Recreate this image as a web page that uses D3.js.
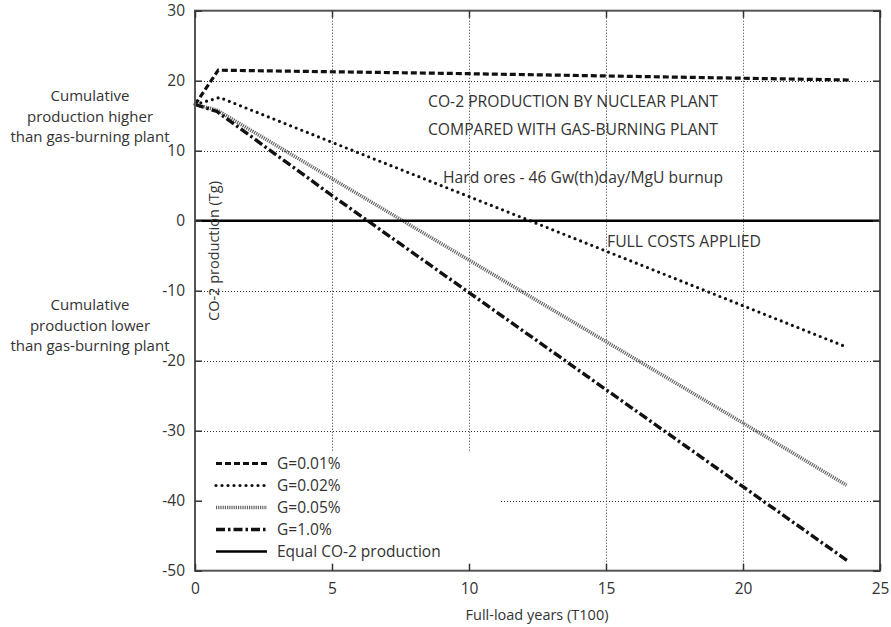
<!DOCTYPE html>
<html lang="en">
<head>
<meta charset="utf-8">
<title>CO-2 production</title>
<script src="https://cdn.jsdelivr.net/npm/d3@7"></script>
<style>
  body { margin: 0; background: #fff; }
  text { font-family: "Open Sans", "DejaVu Sans", sans-serif; fill: #333; }
</style>
</head>
<body>
<script>
// data
var xTicks = [0, 5, 10, 15, 20, 25];
var yTicks = [30, 20, 10, 0, -10, -20, -30, -40, -50];
var seriesNames = ["G=0.01%", "G=0.02%", "G=0.05%", "G=1.0%", "Equal CO-2 production"];
var g001 = [[0, 16.6], [0.85, 21.5], [10, 21.0], [23.9, 20.1]];
var g002 = [[0, 16.6], [0.9, 17.6], [5, 11.2], [12.35, -0.2], [23.75, -18.0]];
var g005 = [[0, 16.6], [0.8, 15.8], [7.58, 0], [20, -28.9], [23.78, -37.8]];
var g100 = [[0, 16.6], [0.8, 15.6], [5, 3.6], [20, -38.0], [23.82, -48.6]];
var equal = [[0, 0], [25, 0]];

var W = 891, H = 627;
var svg = d3.select("body").append("svg").attr("width", W).attr("height", H);

var x = d3.scaleLinear().domain([0, 25]).range([195, 880]);
var y = d3.scaleLinear().domain([-50, 30]).range([570.7, 10.7]);
function px(v) { return Math.round(v) + 0.5; }

//grid
var grid = svg.append("g").attr("stroke", "#333").attr("stroke-width", 1).attr("stroke-dasharray", "1,2");
grid.selectAll("line.gy").data(yTicks.slice(1, -1)).enter().append("line")
    .attr("x1", x(0)).attr("x2", x(25)).attr("y1", function(d) { return px(y(d)); }).attr("y2", function(d) { return px(y(d)); });
grid.selectAll("line.gx").data(xTicks.slice(1, -1)).enter().append("line")
    .attr("y1", y(-50)).attr("y2", y(30)).attr("x1", function(d) { return px(x(d)); }).attr("x2", function(d) { return px(x(d)); });

//series
var line = d3.line().x(function(d) { return x(d[0]); }).y(function(d) { return y(d[1]); });
var styles = [
  {data: g001, color: "#111", width: 3.2, dash: "6,3", cap: "butt"},
  {data: g002, color: "#111", width: 3.2, dash: "0,6", cap: "round"},
  {data: g005, color: "#666", width: 3.6, dash: "1.2,1", cap: "butt"},
  {data: g100, color: "#111", width: 3.4, dash: "9,3,2.5,3", cap: "butt"},
  {data: equal, color: "#000", width: 2.4, dash: null, cap: "butt"}
];
svg.selectAll("path.series").data(styles).enter().append("path")
    .attr("class", "series")
    .attr("fill", "none")
    .attr("stroke", function(d) { return d.color; })
    .attr("stroke-width", function(d) { return d.width; })
    .attr("stroke-dasharray", function(d) { return d.dash; })
    .attr("stroke-linecap", function(d) { return d.cap; })
    .attr("d", function(d) { return line(d.data); });

//legend box hides the grid behind it
svg.append("rect").attr("x", x(0) + 1).attr("y", 452).attr("width", 499 - x(0) - 1).attr("height", y(-50) - 453)
    .attr("fill", "#fff");
var leg = svg.append("g");
seriesNames.forEach(function(name, i) {
  var cy = 463.5 + i * 22;
  var s = styles[i];
  leg.append("line").attr("x1", 216).attr("x2", 267).attr("y1", cy).attr("y2", cy)
      .attr("stroke", s.color).attr("stroke-width", s.width)
      .attr("stroke-dasharray", s.dash).attr("stroke-linecap", s.cap);
  leg.append("text").attr("x", 277).attr("y", cy + 5.5).attr("font-size", 15.5).text(name);
});

//frame and axes
svg.append("rect").attr("x", x(0)).attr("y", y(30)).attr("width", x(25) - x(0)).attr("height", y(-50) - y(30))
    .attr("fill", "none").attr("stroke", "#555").attr("stroke-width", 2);

var axL = svg.append("g").attr("transform", "translate(" + x(0) + ",0)")
    .call(d3.axisLeft(y).tickValues(yTicks).tickSize(-7).tickPadding(10).tickFormat(String));
var axR = svg.append("g").attr("transform", "translate(" + x(25) + ",0)")
    .call(d3.axisRight(y).tickValues(yTicks).tickSize(-7).tickFormat(""));
var axB = svg.append("g").attr("transform", "translate(0," + y(-50) + ")")
    .call(d3.axisBottom(x).tickValues(xTicks).tickSize(-7).tickPadding(12).tickFormat(String));
var axT = svg.append("g").attr("transform", "translate(0," + y(30) + ")")
    .call(d3.axisTop(x).tickValues(xTicks).tickSize(-7).tickFormat(""));
[axL, axR, axB, axT].forEach(function(a) {
  a.select(".domain").remove();
  a.selectAll(".tick line").attr("stroke", "#333").attr("stroke-width", 1.5);
  a.selectAll(".tick text").attr("font-size", 15.5).attr("fill", "#333")
      .style("font-family", "'Open Sans', 'DejaVu Sans', sans-serif");
});

//titles
svg.append("text").attr("x", 537).attr("y", 620).attr("text-anchor", "middle").attr("font-size", 14.5)
    .text("Full-load years (T100)");
svg.append("text").attr("transform", "translate(219,251) rotate(-90)").attr("text-anchor", "middle")
    .attr("font-size", 14.5).text("CO-2 production (Tg)");

//annotations
function note(txt, x0, yb, w) {
  svg.append("text").attr("x", x0).attr("y", yb).attr("font-size", 15.5)
      .attr("textLength", w).attr("lengthAdjust", "spacingAndGlyphs").text(txt);
}
note("CO-2 PRODUCTION BY NUCLEAR PLANT", 428, 107, 290);
note("COMPARED WITH GAS-BURNING PLANT", 428, 135, 290);
note("Hard ores - 46 Gw(th)day/MgU burnup", 443, 183, 280);
note("FULL COSTS APPLIED", 607, 247, 154);

var upper = ["Cumulative", "production higher", "than gas-burning plant"];
var lower = ["Cumulative", "production lower", "than gas-burning plant"];
upper.forEach(function(t, i) {
  svg.append("text").attr("x", 90).attr("y", 101 + i * 20.5).attr("text-anchor", "middle").attr("font-size", 15).text(t);
});
lower.forEach(function(t, i) {
  svg.append("text").attr("x", 90).attr("y", 310 + i * 20.5).attr("text-anchor", "middle").attr("font-size", 15).text(t);
});
</script>
</body>
</html>
